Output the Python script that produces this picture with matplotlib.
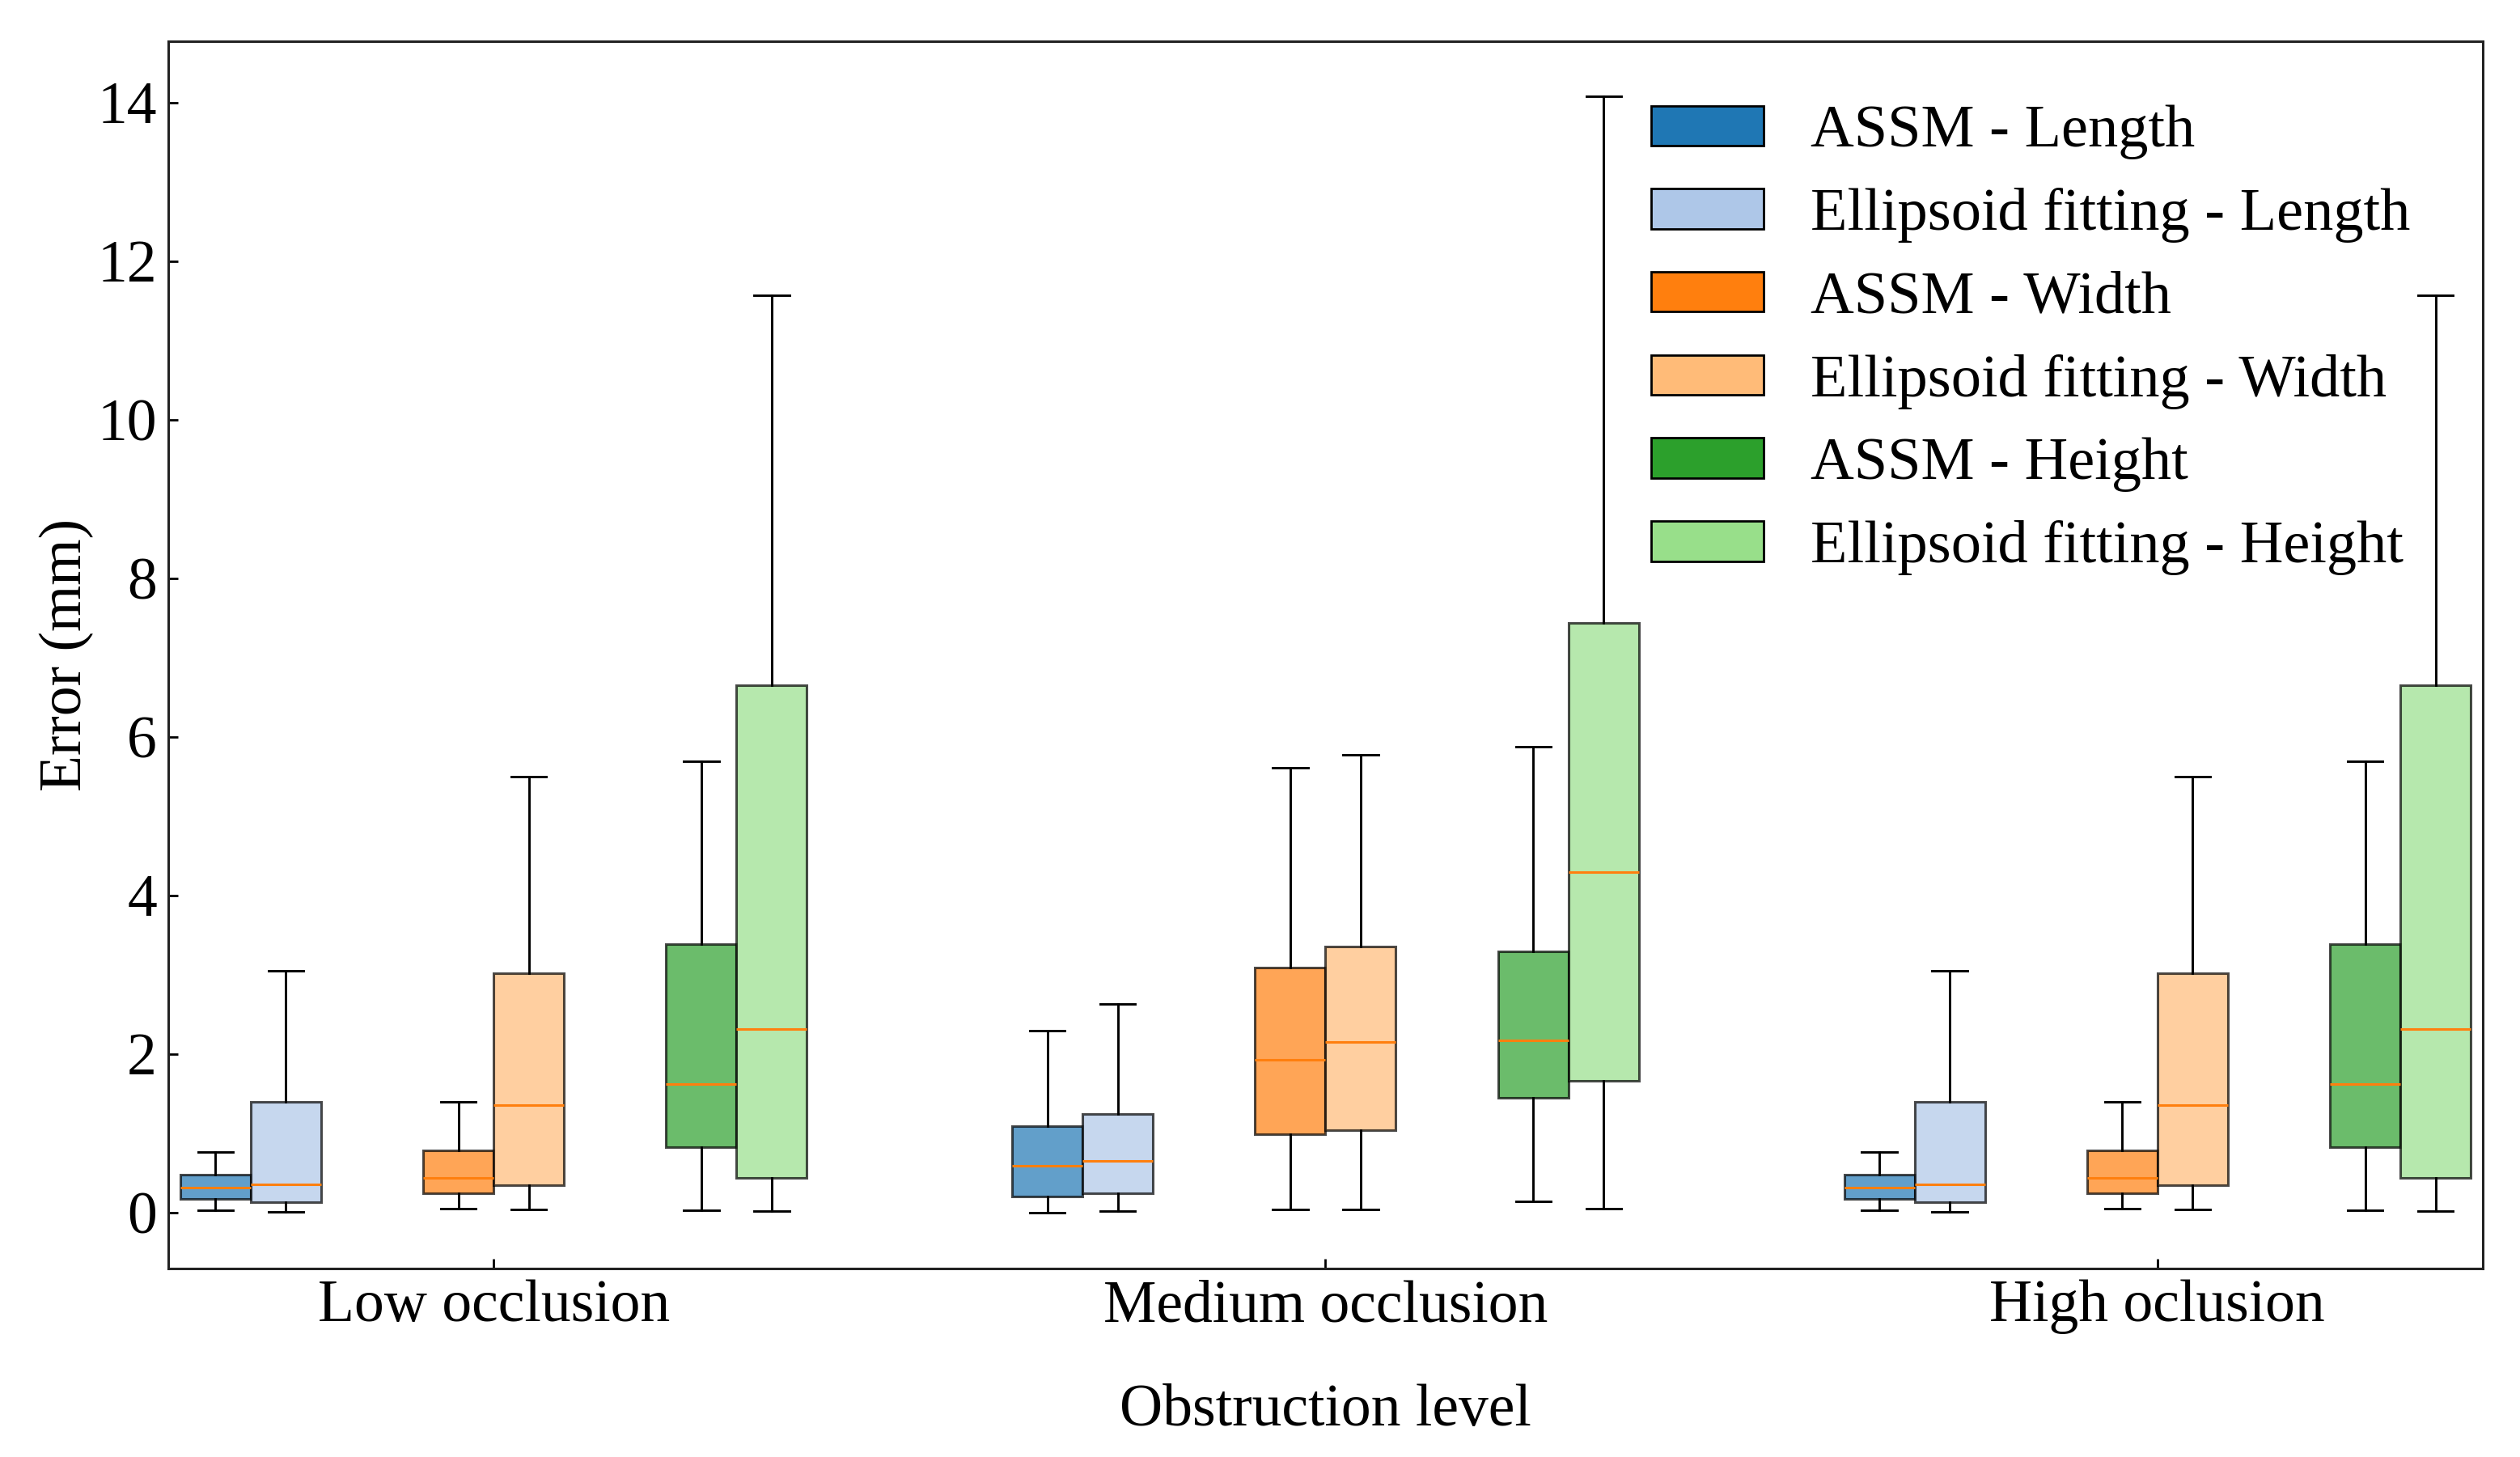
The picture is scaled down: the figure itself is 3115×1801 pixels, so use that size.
import matplotlib
matplotlib.use('Agg')
import matplotlib.pyplot as plt
from matplotlib.patches import Patch

plt.rcParams['font.family'] = ['Liberation Serif', 'DejaVu Serif']

# ---------------- data (five-number summaries: whislo, q1, median, q3, whishi) -------------
groups = ['Low occlusion', 'Medium occlusion', 'High oclusion']
series_labels = ['ASSM - Length', 'Ellipsoid fitting - Length',
                 'ASSM - Width', 'Ellipsoid fitting - Width',
                 'ASSM - Height', 'Ellipsoid fitting - Height']
series_colors = ['#1f77b4', '#aec7e8', '#ff7f0e', '#ffbb78', '#2ca02c', '#98df8a']

# one summary per group: [low, medium, high]
assm_length = [[0.023, 0.169, 0.314, 0.475, 0.763],
               [0.000, 0.202, 0.594, 1.086, 2.290],
               [0.023, 0.169, 0.314, 0.475, 0.763]]
ef_length = [[0.005, 0.125, 0.351, 1.397, 3.052],
             [0.022, 0.241, 0.655, 1.237, 2.631],
             [0.005, 0.125, 0.351, 1.397, 3.052]]
assm_width = [[0.049, 0.242, 0.439, 0.785, 1.394],
              [0.034, 0.991, 1.926, 3.090, 5.609],
              [0.049, 0.242, 0.439, 0.785, 1.394]]
ef_width = [[0.042, 0.340, 1.357, 3.022, 5.500],
            [0.034, 1.036, 2.150, 3.353, 5.772],
            [0.042, 0.340, 1.357, 3.022, 5.500]]
assm_height = [[0.027, 0.825, 1.623, 3.387, 5.690],
               [0.135, 1.444, 2.172, 3.292, 5.878],
               [0.027, 0.825, 1.623, 3.387, 5.690]]
ef_height = [[0.019, 0.431, 2.315, 6.652, 11.570],
             [0.045, 1.657, 4.293, 7.436, 14.077],
             [0.019, 0.431, 2.315, 6.652, 11.570]]

all_series = [assm_length, ef_length, assm_width, ef_width, assm_height, ef_height]

# ---------------- layout ----------------
group_pos = [0, 1, 2]
dim_offset = [-0.292, 0.0, 0.292]
box_w = 0.0846

fig = plt.figure(figsize=(15.575, 9.005), dpi=200)
ax = fig.add_axes([0.06677, 0.12937, 0.91846, 0.84231])

for s, (summ, col) in enumerate(zip(all_series, series_colors)):
    dim = s // 2
    kind = s % 2
    stats = []
    positions = []
    for g, five in zip(group_pos, summ):
        lo, q1, med, q3, hi = five
        stats.append(dict(whislo=lo, q1=q1, med=med, q3=q3, whishi=hi, fliers=[]))
        positions.append(g + dim_offset[dim] + (kind - 0.5) * box_w)
    ax.bxp(stats, positions=positions, widths=box_w, patch_artist=True,
           showfliers=False, manage_ticks=False,
           boxprops=dict(facecolor=col, edgecolor='black', alpha=0.7, linewidth=1.1),
           medianprops=dict(color='#ff7f0e', linewidth=1.1),
           whiskerprops=dict(color='black', linewidth=1.05),
           capprops=dict(color='black', linewidth=1.05))

ax.set_xlim(-0.3911, 2.3911)
ax.set_ylim(-0.707, 14.772)
ax.set_xticks(group_pos)
ax.set_xticklabels(groups)
ax.set_yticks(range(0, 15, 2))
ax.tick_params(direction='in', length=4.3, width=1.0, pad=5, labelsize=26.5, colors='black')

for sp in ax.spines.values():
    sp.set_linewidth(1.1)
    sp.set_color('#222222')

ax.set_xlabel('Obstruction level', fontsize=26.5, labelpad=22)
ax.set_ylabel('Error (mm)', fontsize=26.5, labelpad=1.7)

handles = [Patch(facecolor=c, edgecolor='black', linewidth=1.0) for c in series_colors]
ax.legend(handles, series_labels, loc='upper left', bbox_to_anchor=(0.6407, 0.948),
          frameon=False, fontsize=26.8, borderpad=0, borderaxespad=0,
          handlelength=1.87, handleheight=0.645, handletextpad=0.77, labelspacing=0.47)

fig.savefig('out.png', dpi=200)
